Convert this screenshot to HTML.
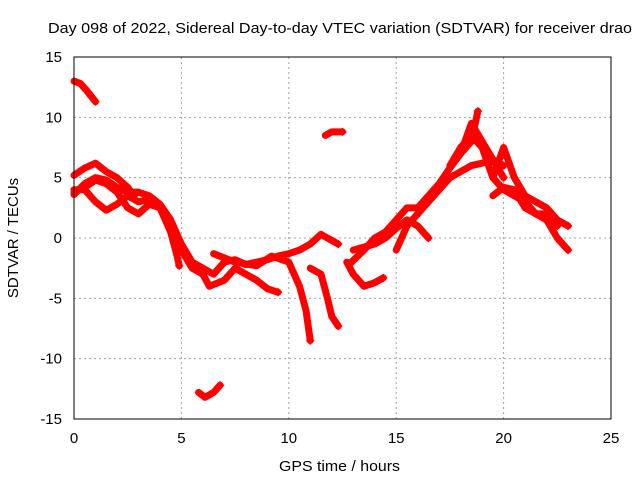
<!DOCTYPE html>
<html><head><meta charset="utf-8"><style>
body{margin:0;background:#fff}
svg{display:block;font-family:"Liberation Sans",sans-serif}
</style></head><body>
<svg id="chart" width="640" height="480" xmlns="http://www.w3.org/2000/svg">
<text x="48" y="33" font-size="15" textLength="584" lengthAdjust="spacingAndGlyphs">Day 098 of 2022, Sidereal Day-to-day VTEC variation (SDTVAR) for receiver drao</text>
<text x="279" y="471" font-size="15" textLength="121" lengthAdjust="spacingAndGlyphs">GPS time / hours</text>
<text transform="translate(18,238) rotate(-90)" font-size="15" text-anchor="middle">SDTVAR / TECUs</text>
<g id="grid"></g><g id="ticks"></g><g id="marks"></g>
<rect x="74" y="57" width="537" height="362" fill="none" stroke="#000" stroke-width="1"/>
</svg>
<script>
const xTicks=[0,5,10,15,20,25];
const yTicks=[-15,-10,-5,0,5,10,15];
const trackA=[[0,13],[0.3,12.8],[0.6,12.2],[1,11.3]];
const trackB=[[0,5.2],[0.5,5.8],[1,6.2],[1.5,5.5],[2,5],[2.5,4.2],[2.8,3.5]];
const trackC=[[0,3.6],[0.5,4.5],[1,5],[1.5,4.8],[2,4.2],[2.5,3.8],[3,3.8],[3.5,3.5],[4,2.8],[4.5,1.5],[5,-0.5],[5.5,-2],[6,-2.5],[6.5,-3],[7,-2],[7.5,-1.8],[8,-2.2],[8.5,-2],[9,-1.8],[9.5,-1.5],[10,-1.3],[10.5,-1],[11,-0.5],[11.5,0.3],[12,-0.2],[12.3,-0.5]];
const trackD=[[0,4],[0.5,4],[1,3],[1.5,2.3],[2,2.8],[2.5,3.5],[3,3],[3.5,3.2],[4,2.5],[4.5,0.5],[4.8,-1.5],[4.9,-2.3]];
const trackE=[[0,3.8],[0.5,4.2],[1,4.8],[1.5,4.5],[2,3.8],[2.5,2.5],[3,2],[3.5,2.8],[4,2.5],[4.5,1],[5,-1],[5.5,-2.5],[6,-3],[6.3,-4],[7,-3.5],[7.5,-2.5],[8,-3],[8.5,-3.5],[9,-4.2],[9.5,-4.5]];
const trackF=[[6.5,-1.3],[7.5,-2],[8.5,-2.3],[9.2,-1.5],[10,-2],[10.5,-4],[10.8,-6],[11,-8.5]];
const trackG=[[11,-2.5],[11.5,-3],[11.8,-5],[12,-6.5],[12.3,-7.3]];
const trackH=[[11.7,8.5],[12,8.8],[12.5,8.8]];
const trackI=[[5.8,-12.8],[6.1,-13.2],[6.5,-12.8],[6.8,-12.2]];
const trackJ=[[12.7,-2],[13,-3],[13.5,-4],[14,-3.7],[14.4,-3.3]];
const trackK=[[12.8,-2.2],[13.5,-1],[14,0],[14.5,0.5],[15,1.5],[15.5,2.5],[16,2.5],[16.5,3.5],[17,4.5],[17.5,5.8],[18,7],[18.5,8],[18.8,10.5]];
const trackL=[[13,-1],[14,-0.5],[14.5,0],[15,0.8],[15.5,1.5],[16,1],[16.5,0]];
const trackM=[[15,-1],[15.5,1],[16,2],[16.5,3],[17,4],[17.5,5],[18,5.5],[18.5,6],[19,6.2],[19.5,6.5],[20,6]];
const trackN=[[17.5,6],[18,7.5],[18.5,8.5],[19,7.5],[19.5,5],[20,4],[20.5,3.5],[21,3],[21.5,2],[22,1.5],[22.5,0],[23,-1]];
const trackO=[[19.5,5],[20,7.5],[20.5,5],[21,3.5],[21.5,3],[22,2.5],[22.5,1.5],[23,1]];
const trackP=[[19.5,3.5],[20,4.2],[20.5,4],[21,2.5],[21.5,2],[22,2],[22.5,1]];
const trackQ=[[18,7],[18.5,9.5],[19,8],[19.5,6.5],[20,5]];
const tracks=[trackA,trackB,trackC,trackD,trackE,trackF,trackG,trackH,trackI,trackJ,trackK,trackL,trackM,trackN,trackO,trackP,trackQ];
const NS="http://www.w3.org/2000/svg";
const X=t=>74+t*(537/25), Y=v=>238-v*(362/30);
const grid=document.getElementById('grid'),ticks=document.getElementById('ticks'),marks=document.getElementById('marks');
function mk(tag,attrs,parent){const e=document.createElementNS(NS,tag);for(const k in attrs)e.setAttribute(k,attrs[k]);parent.appendChild(e);return e;}
xTicks.forEach(t=>{
 if(t>0&&t<25){const g=mk('line',{x1:X(t),x2:X(t),y1:57,y2:419,stroke:'#a0a0a0','stroke-dasharray':'2,3'},grid);
 
 }
 const tl=mk('text',{x:X(t),y:443,'font-size':15,'text-anchor':'middle'},ticks);tl.textContent=t;
 
 
});
yTicks.forEach(v=>{
 if(v>-15&&v<15){const g=mk('line',{x1:74,x2:611,y1:Y(v),y2:Y(v),stroke:'#a0a0a0','stroke-dasharray':'2,3'},grid);
 
 }
 const tl=mk('text',{x:62,y:Y(v)+5,'font-size':15,'text-anchor':'end'},ticks);tl.textContent=v;
 
 
});
tracks.forEach(tr=>{
 const pl=mk('polyline',{points:tr.map(p=>X(p[0])+','+Y(p[1])).join(' '),fill:'none',stroke:'#ff0000','stroke-width':7,'stroke-linejoin':'round','stroke-linecap':'round'},marks);
 
 
 const last=tr[tr.length-1];
 const m=mk('path',{d:`M${X(last[0])-4},${Y(last[1])}h8M${X(last[0])},${Y(last[1])-4}v8`,stroke:'#ff0000','stroke-width':1.5},marks);
 
 
});
</script>
</body></html>
